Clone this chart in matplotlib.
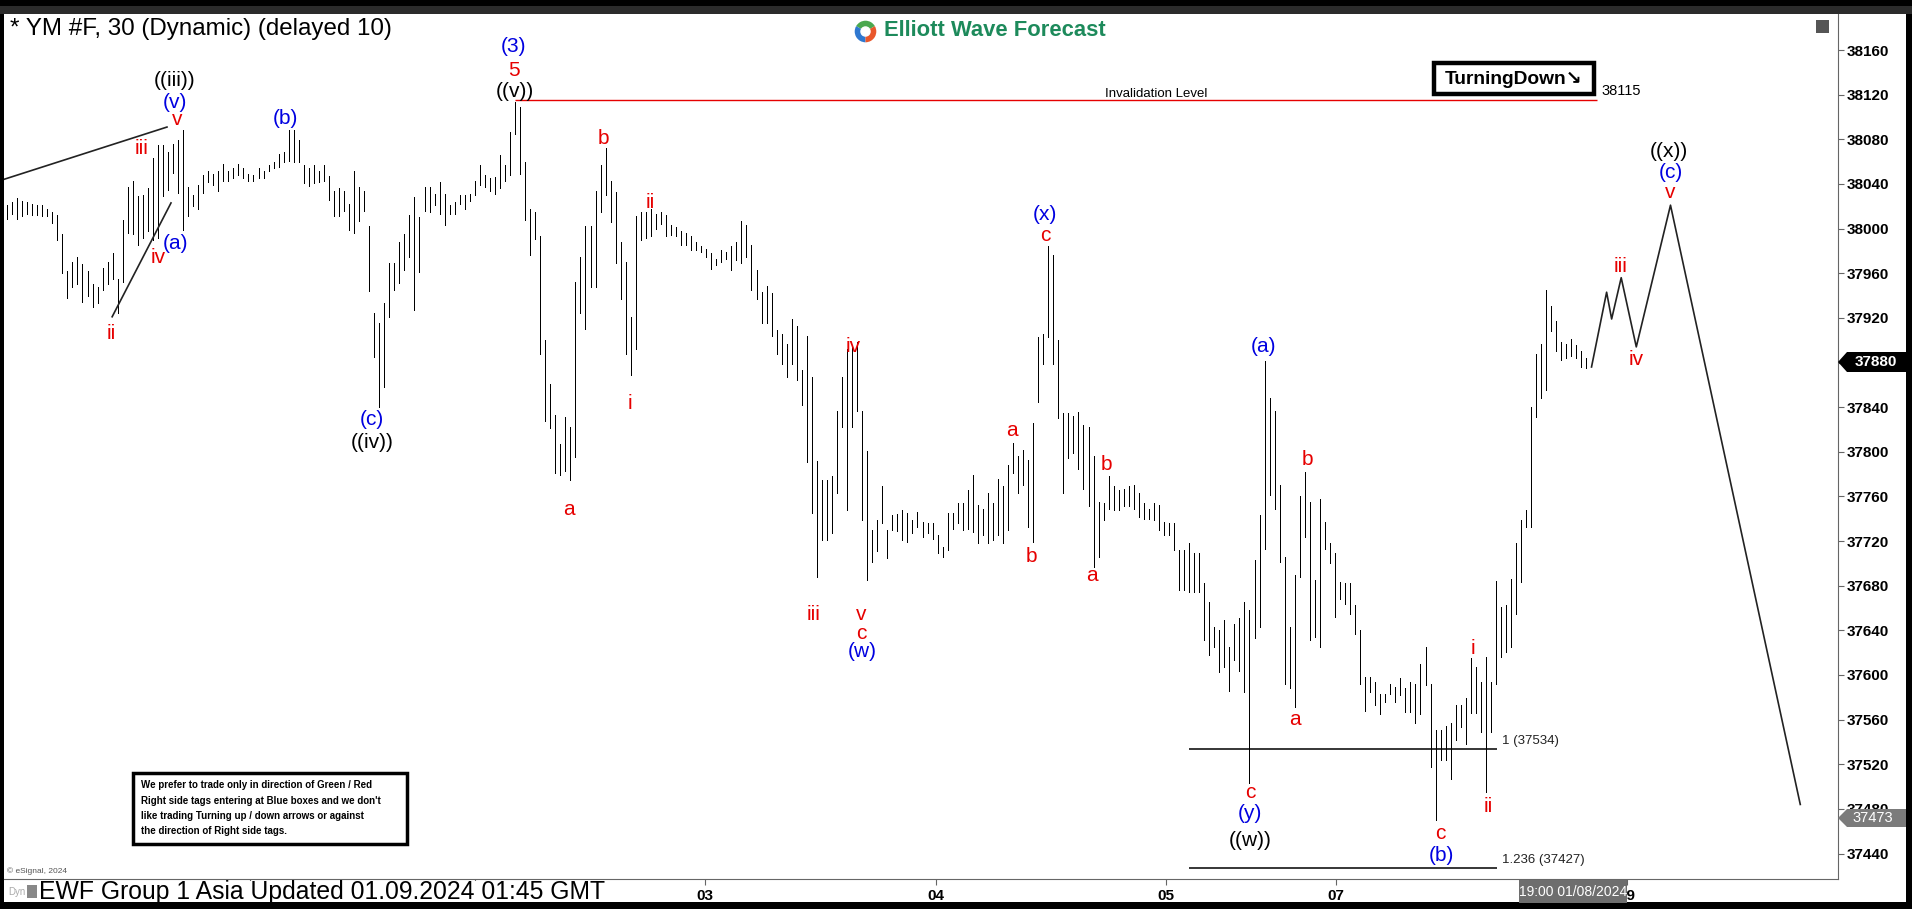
import numpy as np
import matplotlib
matplotlib.use('Agg')
import matplotlib.pyplot as plt
from matplotlib.patches import Rectangle, Polygon

plt.rcParams['font.family'] = ['Liberation Sans', 'DejaVu Sans']

W, H = 1912, 909

# 30 min bars (high / low)
highs = [
    # 29 Dec - 02 Jan
    38021, 38024, 38027, 38025, 38024, 38022, 38021, 38021, 38018, 38015,
    38012, 37995, 37962, 37970, 37975, 37968, 37962, 37950, 37948, 37965,
    37970, 37978, 37955, 38008, 38037, 38043, 38029, 38030, 38036, 38063,
    38075, 38075, 38069, 38076, 38079, 38088, 38037, 38030, 38039, 38048,
    38052, 38049, 38052, 38058, 38052, 38054, 38058, 38054, 38049, 38048,
    38054, 38052, 38057, 38060, 38067, 38069, 38088, 38088, 38079, 38057,
    38054, 38057, 38052, 38057, 38047, 38034, 38036, 38034, 38022, 38052,
    38037, 38034, 38002, 37924, 37915, 37933, 37969, 37969, 37988, 37995,
    38012, 38028, 38010,
    # 02 - 03 Jan
    38037, 38037, 38031, 38042, 38031, 38021, 38024, 38030, 38030, 38031,
    38043, 38057, 38048, 38045, 38046, 38066, 38057, 38087, 38113, 38109,
    38060, 38018, 38015, 37993, 37900, 37861, 37833, 37807, 37831, 37822,
    37952, 37975, 38002, 38002, 38034, 38057, 38072, 38043, 38033, 37988,
    37970, 37921, 38011, 38015, 38015, 38018, 38013, 38015, 38012, 38003,
    38001, 37998, 37996, 37993, 37988, 37984, 37982, 37978, 37973, 37981,
    37979, 37984, 37988, 38007, 38003, 37985, 37963, 37943, 37949, 37942,
    37909, 37906, 37897, 37919, 37913, 37873, 37904, 37867, 37792, 37775,
    37775, 37778, 37837, 37867, 37892, 37894, 37898, 37837, 37801, 37730,
    37739, 37769,
    # 04 Jan
    37730, 37743, 37744, 37748, 37745, 37739, 37746, 37737, 37736, 37736,
    37725, 37715, 37745, 37745, 37754, 37754, 37766, 37779, 37752, 37749,
    37763, 37754, 37776, 37769, 37788, 37808, 37796, 37802, 37793, 37826,
    37903, 37906, 37984, 37976, 37900, 37835, 37835, 37832, 37836, 37824,
    37822, 37796, 37755, 37754, 37778, 37769, 37766, 37767, 37769, 37770,
    37763, 37754, 37749,
    # 05 - 08 Jan
    37754, 37752, 37737, 37736, 37736, 37712, 37712, 37718, 37709, 37709,
    37682, 37665, 37643, 37640, 37649, 37625, 37646, 37651, 37665, 37658,
    37703, 37743, 37881, 37848, 37837, 37770, 37706, 37643, 37690, 37760,
    37782, 37755, 37685, 37758, 37737, 37718, 37709, 37683, 37682, 37682,
    37663, 37640, 37598, 37598, 37594, 37583, 37583, 37592, 37589, 37597,
    37588, 37594, 37592, 37610, 37625, 37592, 37551, 37551, 37554, 37557,
    37573, 37573, 37579, 37615, 37607, 37594, 37616, 37594, 37684, 37661,
    37663, 37686, 37718, 37739, 37748,
    37840, 37888, 37897, 37945, 37931, 37917, 37898, 37897, 37901, 37896,
    37890, 37884,
]

lows = [
    38009, 38013, 38009, 38011, 38013, 38012, 38012, 38011, 38011, 38005,
    37990, 37960, 37938, 37948, 37950, 37934, 37940, 37930, 37933, 37945,
    37950, 37955, 37924, 37952, 37996, 37995, 37985, 37992, 37998, 37990,
    37992, 38029, 38035, 38050, 38032, 37999, 38011, 38020, 38018, 38032,
    38042, 38039, 38034, 38043, 38043, 38045, 38048, 38045, 38043, 38043,
    38045, 38045, 38052, 38054, 38055, 38060, 38061, 38060, 38060, 38041,
    38038, 38041, 38042, 38043, 38026, 38011, 38011, 38016, 37999, 37996,
    38007, 38016, 37944, 37885, 37840, 37858, 37921, 37945, 37951, 37963,
    37975, 37927, 37961,
    38016, 38015, 38021, 38013, 38003, 38013, 38013, 38022, 38018, 38025,
    38030, 38039, 38037, 38034, 38031, 38036, 38043, 38048, 38085, 38049,
    38008, 37976, 37991, 37888, 37828, 37821, 37781, 37779, 37783, 37775,
    37795, 37924, 37910, 37948, 37948, 38015, 38030, 38006, 37969, 37937,
    37888, 37869, 37892, 37990, 37992, 37993, 38000, 38004, 37993, 37994,
    37993, 37985, 37985, 37981, 37981, 37979, 37975, 37964, 37967, 37970,
    37973, 37963, 37972, 37969, 37975, 37945, 37937, 37915, 37915, 37904,
    37888, 37879, 37867, 37879, 37864, 37842, 37791, 37745, 37688, 37721,
    37721, 37727, 37763, 37822, 37748, 37822, 37837, 37739, 37685, 37701,
    37711, 37736,
    37705, 37730, 37729, 37721, 37719, 37727, 37733, 37724, 37727, 37722,
    37709, 37706, 37712, 37731, 37736, 37730, 37731, 37728, 37718, 37725,
    37718, 37721, 37725, 37718, 37730, 37781, 37763, 37770, 37733, 37719,
    37845, 37879, 37903, 37879, 37830, 37763, 37794, 37799, 37785, 37767,
    37751, 37697, 37706, 37739, 37749, 37748, 37748, 37751, 37751, 37749,
    37742, 37740, 37740,
    37739, 37730, 37725, 37725, 37712, 37676, 37676, 37674, 37674, 37674,
    37631, 37618, 37625, 37603, 37607, 37586, 37613, 37604, 37585, 37503,
    37633, 37643, 37713, 37761, 37749, 37701, 37592, 37588, 37571, 37688,
    37724, 37631, 37634, 37625, 37713, 37700, 37652, 37668, 37664, 37655,
    37637, 37592, 37568, 37585, 37573, 37565, 37576, 37583, 37576, 37582,
    37567, 37567, 37557, 37565, 37591, 37518, 37470, 37524, 37524, 37507,
    37542, 37553, 37538, 37566, 37566, 37549, 37495, 37549, 37592, 37616,
    37621, 37625, 37655, 37683, 37733,
    37733, 37831, 37848, 37855, 37908, 37890, 37882, 37884, 37886, 37884,
    37876, 37875,
]

price_ticks = list(range(37440, 38161, 40))
day_ticks = [48.3, 93.0, 138.8, 184.7, 230.4, 264.2, 322.0]
day_labels = ['', '', '03', '04', '05', '07', '09']   # 29 / 02 sit under the footer

RED = '#e60000'
BLUE = '#0000e0'
BLK = 'black'

# wave count labels: bar position, price, text, colour
wave_labels = [
    (33.3, 38133, '((iii))', BLK), (33.3, 38113, '(v)', BLUE), (33.8, 38098, 'v', RED),
    (26.7, 38072, 'iii', RED), (30.1, 37974, 'iv', RED), (33.5, 37987, '(a)', BLUE),
    (20.7, 37906, 'ii', RED), (55.3, 38099, '(b)', BLUE), (72.5, 37829, '(c)', BLUE),
    (72.5, 37808, '((iv))', BLK), (100.7, 38163, '(3)', BLUE), (100.7, 38142, '5', RED),
    (100.9, 38123, '((v))', BLK), (118.6, 38081, 'b', RED), (127.8, 38023, 'ii', RED),
    (123.9, 37843, 'i', RED), (111.8, 37748, 'a', RED), (168.3, 37894, 'iv', RED),
    (160.3, 37654, 'iii', RED), (169.8, 37654, 'v', RED), (169.8, 37637, 'c', RED),
    (170.0, 37621, '(w)', BLUE), (206.4, 38013, '(x)', BLUE), (206.4, 37994, 'c', RED),
    (199.8, 37819, 'a', RED), (203.7, 37706, 'b', RED), (218.5, 37789, 'b', RED),
    (215.6, 37689, 'a', RED), (249.8, 37894, '(a)', BLUE), (258.5, 37793, 'b', RED),
    (256.1, 37560, 'a', RED), (247.1, 37495, 'c', RED), (247.1, 37476, '(y)', BLUE),
    (247.1, 37452, '((w))', BLK), (291.5, 37624, 'i', RED), (294.4, 37482, 'ii', RED),
    (284.9, 37458, 'c', RED), (285.1, 37438, '(b)', BLUE), (320.7, 37966, 'iii', RED),
    (323.9, 37883, 'iv', RED), (330.7, 38032, 'v', RED), (330.7, 38050, '(c)', BLUE),
    (330.3, 38069, '((x))', BLK),
]

# projected path
proj_x = [315.0, 318.0, 319.0, 320.9, 323.9, 330.7, 356.5]
proj_y = [37876, 37943, 37919, 37956, 37894, 38021, 37484]

# diagonal ending wedge lines
wedge_upper_x, wedge_upper_y = [-1.4, 31.8], [38043, 38091]
wedge_lower_x, wedge_lower_y = [20.9, 32.6], [37921, 38023]

invalidation = 38115
fib_levels = [37534, 37427]
fib_texts = ['1 (37534)', '1.236 (37427)']


def prect(x0, y0, x1, y1, **kw):
    r = Rectangle((x0 / W, 1 - y1 / H), (x1 - x0) / W, (y1 - y0) / H,
                  transform=fig.transFigure, **kw)
    fig.add_artist(r)
    return r


def ppoly(pts, **kw):
    p = Polygon([(x / W, 1 - y / H) for x, y in pts], closed=True,
                transform=fig.transFigure, **kw)
    fig.add_artist(p)


def ptext(x, y, s, **kw):
    return fig.text(x / W, 1 - y / H, s, **kw)


fig = plt.figure(figsize=(W / 100, H / 100), dpi=100, facecolor='black')

# window frame
prect(0, 6, W, 14, facecolor='#2b2b2b', edgecolor='none', zorder=-10)
prect(3.5, 14, 1906, 902, facecolor='white', edgecolor='none', zorder=-9)

ax = fig.add_axes([4 / W, 1 - 879 / H, 1834 / W, 865 / H])
ax.set_facecolor('white')
ax.set_xlim(-0.6, 364.0)
ax.set_ylim(37417.2, 38192.3)

x = np.arange(len(highs))
ax.vlines(x, lows, highs, colors='black', linewidth=0.72, antialiased=False)

ax.plot(proj_x, proj_y, color='#222222', lw=1.2)
ax.plot(wedge_upper_x, wedge_upper_y, color='#222222', lw=1.2)
ax.plot(wedge_lower_x, wedge_lower_y, color='#222222', lw=1.2)

ax.hlines(invalidation, 101.0, 316.1, color=RED, lw=1.0)
ax.text(228.4, invalidation + 6, 'Invalidation Level', fontsize=9.5,
        ha='center', va='center')
ax.text(316.9, invalidation + 8, '38115', fontsize=10.5, ha='left', va='center')

for lvl, t in zip(fib_levels, fib_texts):
    ax.hlines(lvl, 235.0, 296.2, color='black', lw=1.1)
    ax.text(297.2, lvl + 7, t, fontsize=9.5, ha='left', va='center', color='#222222')

for xi, yi, t, c in wave_labels:
    ax.text(xi, yi, t, color=c, fontsize=15, ha='center', va='center')

# axes styling
for s in ['top', 'left']:
    ax.spines[s].set_visible(False)
for s in ['right', 'bottom']:
    ax.spines[s].set_color('#666666')
ax.yaxis.tick_right()
ax.set_yticks(price_ticks)
# the 37880 tick sits under the last-price marker
ax.set_yticklabels(['' if p == 37880 else str(p) for p in price_ticks],
                   fontweight='bold', fontsize=11)
ax.set_xticks(day_ticks)
ax.set_xticklabels(day_labels, fontweight='bold', fontsize=11)
ax.tick_params(axis='y', length=4, color='#666666', pad=2)
ax.tick_params(axis='x', length=4, color='#666666', pad=3)

# header
ptext(10, 29, '* YM #F, 30 (Dynamic) (delayed 10)', fontsize=17.4, va='center')
logo = fig.add_axes([852 / W, 1 - 45 / H, 27 / W, 27 / H])
logo.pie([1, 1, 1], colors=['#4aa84f', '#2f78d0', '#e9572b'], startangle=30,
         wedgeprops=dict(linewidth=0))
logo.add_artist(plt.Circle((0, 0), 0.42, color='white'))
logo.set_aspect('equal')
logo.axis('off')
ptext(884, 30, 'Elliott Wave Forecast', fontsize=15.8, fontweight='bold',
      color='#1d8a5b', va='center')
prect(1816, 20, 1829, 33, facecolor='#555555', edgecolor='none')

# TurningDown tag
prect(1434, 63, 1594, 94, facecolor='white', edgecolor='black', lw=3.2)
ptext(1514, 79, 'TurningDown\u2198', fontsize=13.8, fontweight='bold',
      ha='center', va='center')

# disclaimer box
prect(133, 773, 407, 844, facecolor='white', edgecolor='black', lw=2.5)
notes = ["We prefer to trade only in direction of Green / Red",
         "Right side tags entering at Blue boxes and we don't",
         "like trading Turning up / down arrows or against",
         "the direction of Right side tags."]
for k, line in enumerate(notes):
    ptext(141, 785 + 15.5 * k, line, fontsize=7, fontweight='bold', va='center')

# price markers on the axis
ppoly([(1838, 362), (1847, 352), (1906, 352), (1906, 372), (1847, 372)],
      facecolor='black', edgecolor='none')
ptext(1876, 362, '37880', color='white', fontsize=11, fontweight='bold',
      ha='center', va='center')
ppoly([(1838, 818), (1847, 809), (1906, 809), (1906, 827), (1847, 827)],
      facecolor='#7b7b7b', edgecolor='none')
ptext(1873, 818, '37473', color='white', fontsize=10.5, ha='center', va='center')

# footer
prect(1519, 880, 1627, 903, facecolor='#6e6e6e', edgecolor='none', zorder=4)
ptext(1573, 892, '19:00 01/08/2024', color='white', fontsize=10,
      ha='center', va='center', zorder=6)
ptext(7, 871, '\u00a9 eSignal, 2024', fontsize=6, color='#555555', va='center')
prect(3.5, 880.5, 615, 902, facecolor='white', edgecolor='none', zorder=4)
ptext(8, 892, 'Dyn', fontsize=7, color='#aaaaaa', va='center', zorder=6)
prect(27, 885, 37, 898, facecolor='#888888', edgecolor='none', zorder=5)
ptext(39, 892, 'EWF Group 1 Asia Updated 01.09.2024 01:45 GMT', fontsize=17.8,
      va='center', zorder=6)

fig.savefig('out.png', dpi=100, facecolor='black')
